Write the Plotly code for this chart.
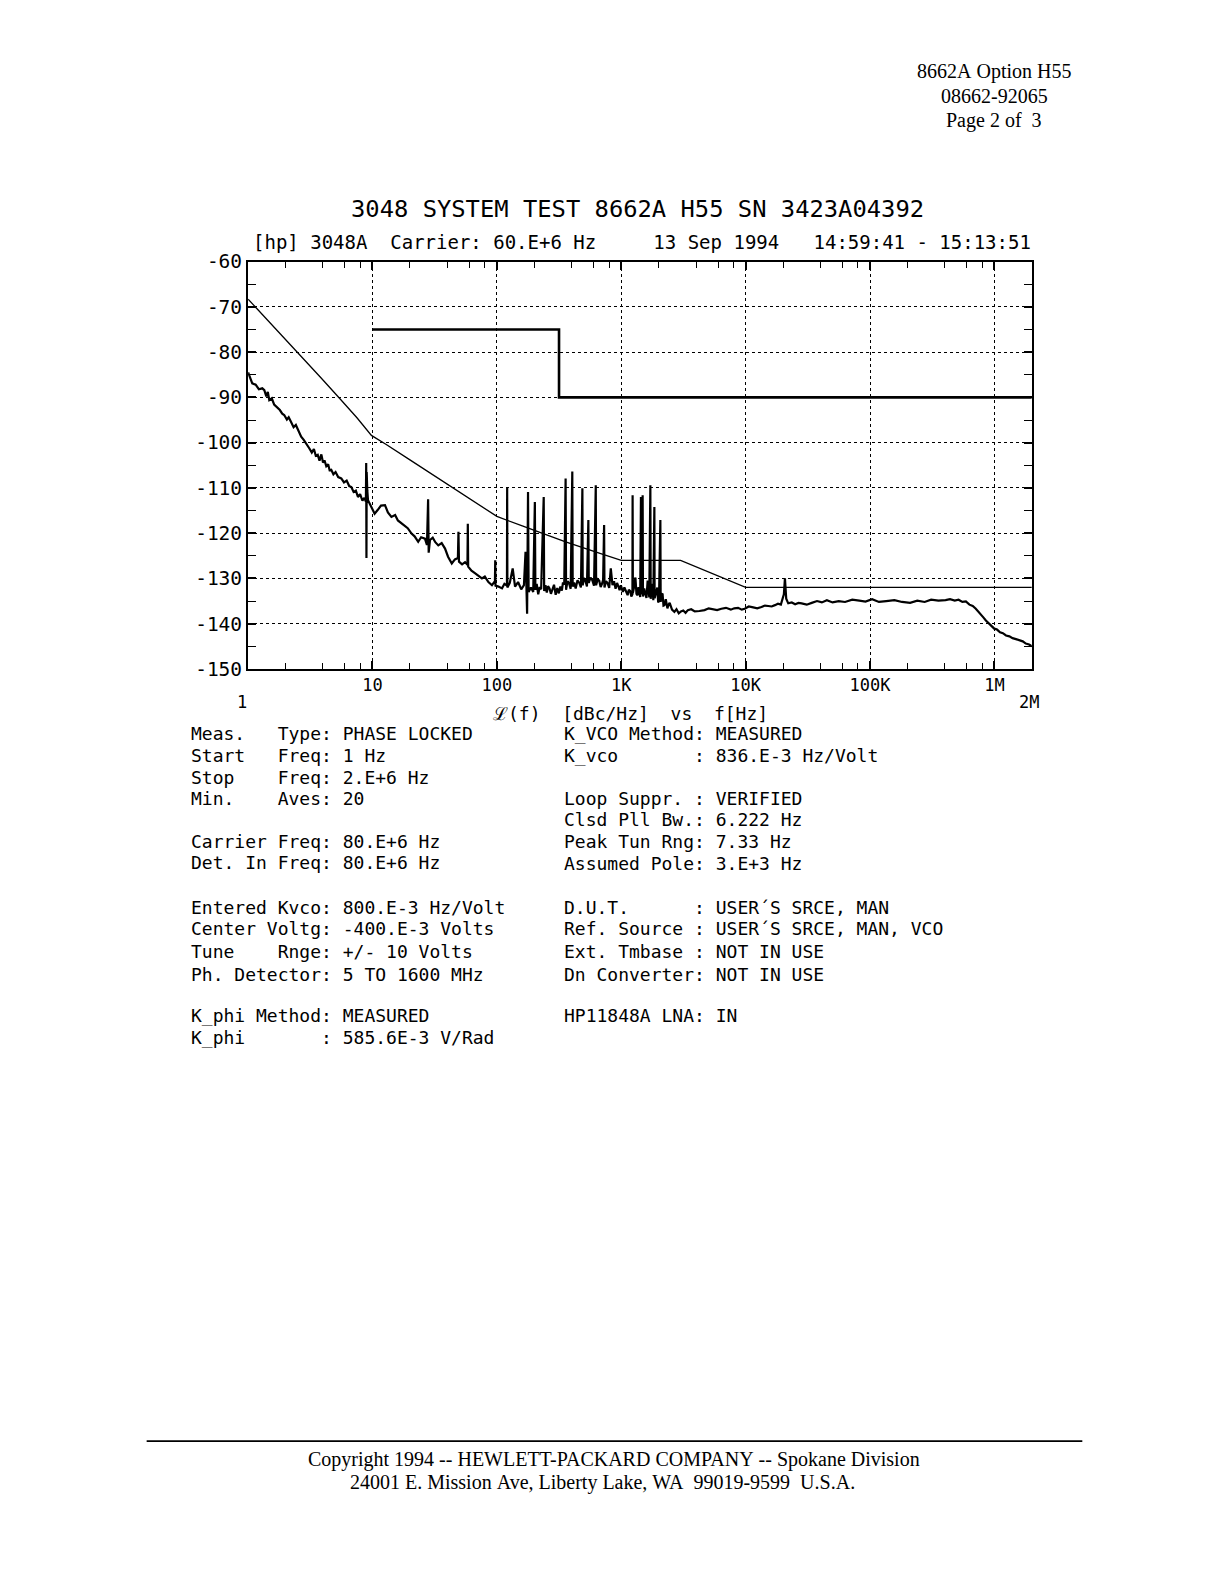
import numpy as np
import plotly.graph_objects as go

# ---------------- data ----------------
# spec limit line (Hz, dBc/Hz)
spec_f = [10, 316, 2e6]
spec_v = [-75, -90, -90]

# system noise floor (thin line)
floor_f = [1, 1.6, 2.58, 3.8, 5.43, 7.5, 9.8, 12.9, 20, 31.8, 46, 70, 100, 160, 238, 357, 684,
           1000, 3000, 10000, 2e6]
floor_v = [-68.3, -74.3, -80.4, -85.5, -90.2, -94.5, -98.4, -100.4, -103.8, -107.4, -110.2,
           -113.5, -116.3, -118.4, -120.1, -121.9, -124.5, -126.0, -126.0, -132.0, -132.0]

# measured phase noise
meas_f = [1.0, 1.04, 1.08, 1.15, 1.22, 1.3, 1.35, 1.4, 1.44, 1.48, 1.55, 1.62, 1.7, 1.8, 1.88,
          1.95, 2.05, 2.12, 2.21, 2.32, 2.42, 2.54, 2.67, 2.8, 2.95, 3.11, 3.25, 3.38, 3.5, 3.63,
          3.75, 3.88, 4.0, 4.11, 4.25, 4.4, 4.52, 4.66, 4.85, 5.05, 5.3, 5.61, 5.9, 6.2, 6.5,
          6.76, 7.05, 7.35, 7.64, 7.95, 8.3, 8.6, 8.85, 8.9, 8.94, 8.98, 9.02, 9.08, 9.2, 9.6,
          10.0, 10.4, 11.0, 11.7, 12.6, 13.3, 14.2, 15.2, 16.0, 17.1, 18.0, 19.2, 20.6, 21.8,
          23.3, 24.6, 26.4, 27.4, 28.0, 28.3, 29.0, 30.5, 32.0, 33.8, 36.0, 38.3, 40.5, 43.4,
          46.0, 48.6, 49.1, 49.6, 52.5, 55.5, 58.0, 58.4, 58.8, 62.5, 67.0, 71.0, 75.8, 80.0,
          85.5, 91.3, 96.5, 97.0, 97.5, 103.0, 110.0, 115.0, 120.5, 121.0, 121.5, 127.0, 134.0,
          140.0, 148.0, 157.0, 165.0, 170.0, 172.0, 175.0, 178.0, 180.0, 188.0, 196.0, 202.0,
          204.0, 209.0, 215.0, 221.0, 227.0, 238.0, 240.0, 246.0, 252.0, 258.0, 265.0, 272.0,
          279.0, 288.0, 297.0, 306.0, 315.0, 324.0, 333.0, 340.0, 348.0, 357.0, 360.0, 370.0,
          380.0, 392.0, 404.0, 407.0, 418.0, 430.0, 445.0, 460.0, 474.0, 487.0, 490.0, 502.0,
          515.0, 530.0, 544.0, 548.0, 566.0, 585.0, 604.0, 624.0, 628.0, 646.0, 665.0, 683.0,
          700.0, 715.0, 728.0, 733.0, 755.0, 775.0, 800.0, 824.0, 850.0, 875.0, 900.0, 925.0,
          950.0, 970.0, 993.0, 1030.0, 1060.0, 1090.0, 1125.0, 1150.0, 1180.0, 1205.0, 1230.0,
          1234.0, 1240.0, 1270.0, 1300.0, 1325.0, 1354.0, 1375.0, 1400.0, 1420.0, 1440.0,
          1450.0, 1470.0, 1486.0, 1495.0, 1530.0, 1560.0, 1595.0, 1630.0, 1655.0, 1680.0,
          1714.0, 1725.0, 1750.0, 1780.0, 1810.0, 1846.0, 1855.0, 1900.0, 1950.0, 1980.0,
          2010.0, 2063.0, 2075.0, 2110.0, 2150.0, 2185.0, 2222.0, 2280.0, 2350.0, 2400.0,
          2450.0, 2560.0, 2675.0, 2780.0, 2900.0, 3020.0, 3150.0, 3290.0, 3432.0, 3650.0,
          3900.0, 4250.0, 4677.0, 5050.0, 5500.0, 5900.0, 6383.0, 6950.0, 7600.0, 8100.0,
          8700.0, 9300.0, 9840.0, 10600.0, 11500.0, 12400.0, 13400.0, 14300.0, 15200.0,
          16200.0, 17200.0, 18200.0, 19200.0, 20300.0, 20700.0, 21200.0, 22000.0, 23500.0,
          25000.0, 26600.0, 28200.0, 31000.0, 34000.0, 37500.0, 41000.0, 45000.0, 50000.0,
          56000.0, 63000.0, 72000.0, 82000.0, 92000.0, 104000.0, 118000.0, 135000.0, 157000.0,
          181000.0, 210000.0, 240000.0, 275000.0, 310000.0, 355000.0, 405000.0, 440000.0,
          480000.0, 515000.0, 553000.0, 590000.0, 630000.0, 670000.0, 709000.0, 745000.0,
          780000.0, 815000.0, 854000.0, 920000.0, 998000.0, 1050000.0, 1110000.0, 1170000.0,
          1240000.0, 1320000.0, 1400000.0, 1490000.0, 1590000.0, 1690000.0, 1790000.0,
          1900000.0, 2000000.0]
meas_v = [-84.5, -86.0, -86.9, -87.2, -88.2, -88.0, -88.4, -89.8, -88.8, -90.6, -90.2, -91.6,
          -92.2, -92.8, -93.6, -93.9, -94.9, -94.4, -95.4, -96.6, -96.1, -97.6, -98.7, -99.4,
          -100.5, -101.3, -102.2, -101.4, -102.9, -102.7, -104.0, -102.6, -104.4, -103.9,
          -105.2, -104.8, -106.1, -106.0, -107.0, -106.5, -107.6, -107.9, -108.8, -108.4,
          -109.6, -109.8, -110.9, -110.6, -112.0, -111.4, -112.8, -112.2, -113.0, -104.5,
          -125.5, -106.5, -123.5, -110.5, -112.7, -113.8, -114.6, -115.7, -114.9, -113.9,
          -113.8, -115.4, -116.4, -116.0, -117.2, -117.9, -118.3, -118.9, -120.1, -120.7,
          -121.9, -120.9, -121.2, -122.6, -112.5, -124.3, -121.5, -121.0, -122.0, -122.7,
          -122.2, -123.4, -125.2, -126.7, -125.8, -125.5, -119.7, -126.3, -126.9, -126.4,
          -127.0, -117.9, -127.4, -128.3, -128.9, -129.4, -130.0, -129.6, -130.8, -131.5,
          -130.6, -126.0, -131.6, -131.8, -132.2, -131.2, -131.6, -109.8, -132.0, -131.0,
          -127.8, -131.8, -130.8, -132.4, -131.5, -124.1, -131.8, -137.8, -110.9, -133.0,
          -132.0, -133.0, -113.1, -132.5, -131.2, -133.5, -131.9, -132.4, -112.0, -132.8,
          -131.5, -133.1, -131.7, -132.2, -133.4, -132.6, -131.4, -133.6, -132.1, -133.3,
          -131.8, -132.7, -130.9, -131.4, -107.9, -132.5, -130.6, -131.0, -132.3, -106.4,
          -131.8, -130.9, -132.2, -130.4, -131.0, -132.0, -110.1, -131.5, -129.9, -130.5,
          -131.8, -117.1, -131.0, -129.8, -130.4, -131.6, -109.4, -131.5, -130.2, -130.5,
          -131.9, -131.2, -130.3, -118.2, -132.0, -130.6, -131.0, -132.1, -127.8, -131.5,
          -130.6, -132.3, -131.0, -131.8, -132.6, -131.5, -133.0, -132.0, -133.0, -133.7,
          -132.5, -132.8, -134.0, -133.5, -111.6, -133.2, -131.8, -129.8, -133.4, -133.7,
          -131.9, -133.0, -134.1, -112.0, -133.5, -132.4, -111.6, -134.0, -132.2, -133.4,
          -134.3, -130.5, -133.0, -134.2, -109.4, -134.5, -132.6, -131.2, -134.8, -114.2,
          -134.4, -133.0, -132.0, -135.3, -135.0, -117.1, -135.2, -133.4, -133.5, -136.0,
          -135.9, -134.6, -136.6, -135.8, -135.4, -136.9, -137.4, -136.8, -137.7, -137.3,
          -137.1, -137.6, -137.0, -136.8, -137.3, -137.2, -137.0, -136.6, -136.8, -137.0,
          -136.7, -136.5, -136.9, -136.6, -136.5, -136.9, -136.7, -136.2, -136.4, -136.6,
          -136.3, -136.0, -136.1, -136.2, -135.9, -135.6, -135.8, -133.5, -130.0, -134.5,
          -135.5, -135.3, -135.7, -135.4, -135.5, -135.8, -135.4, -135.0, -135.3, -134.8,
          -135.3, -135.0, -135.2, -134.7, -134.9, -135.1, -134.6, -135.2, -135.0, -134.8,
          -135.2, -135.4, -134.9, -135.2, -134.7, -134.9, -134.8, -134.6, -134.9, -134.7,
          -135.2, -135.1, -135.8, -136.1, -136.7, -137.3, -138.0, -138.6, -139.3, -140.2,
          -141.1, -141.3, -141.9, -142.1, -142.6, -142.8, -143.2, -143.4, -143.7, -143.9,
          -144.4, -144.6, -145.0]

x_tickvals = [10, 100, 1e3, 1e4, 1e5, 1e6]
x_ticktext = ["10", "100", "1K", "10K", "100K", "1M"]
x_minor = [m * 10 ** d for d in range(0, 7) for m in (2, 4, 6, 8) if m * 10 ** d < 2e6]
y_tickvals = list(range(-150, -59, 10))

title = "3048 SYSTEM TEST 8662A H55 SN 3423A04392"
subtitle = "[hp] 3048A  Carrier: 60.E+6 Hz     13 Sep 1994   14:59:41 - 15:13:51"
axis_title = "ℒ(f)  [dBc/Hz]  vs  f[Hz]"

left_lines = [
    ("Meas.   Type: PHASE LOCKED", 733),
    ("Start   Freq: 1 Hz", 755),
    ("Stop    Freq: 2.E+6 Hz", 776.5),
    ("Min.    Aves: 20", 798),
    ("Carrier Freq: 80.E+6 Hz", 840.7),
    ("Det. In Freq: 80.E+6 Hz", 862.3),
    ("Entered Kvco: 800.E-3 Hz/Volt", 906.7),
    ("Center Voltg: -400.E-3 Volts", 928.3),
    ("Tune    Rnge: +/- 10 Volts", 950.7),
    ("Ph. Detector: 5 TO 1600 MHz", 973.3),
    ("K_phi Method: MEASURED", 1015),
    ("K_phi       : 585.6E-3 V/Rad", 1036.5),
]
right_lines = [
    ("K_VCO Method: MEASURED", 733),
    ("K_vco       : 836.E-3 Hz/Volt", 755),
    ("Loop Suppr. : VERIFIED", 797.5),
    ("Clsd Pll Bw.: 6.222 Hz", 819.3),
    ("Peak Tun Rng: 7.33 Hz", 840.8),
    ("Assumed Pole: 3.E+3 Hz", 862.5),
    ("D.U.T.      : USER´S SRCE, MAN", 906.7),
    ("Ref. Source : USER´S SRCE, MAN, VCO", 928.2),
    ("Ext. Tmbase : NOT IN USE", 950.7),
    ("Dn Converter: NOT IN USE", 973.3),
    ("HP11848A LNA: IN", 1015),
]
header_lines = [("8662A Option H55", 72), ("08662-92065", 96), ("Page 2 of  3", 120.5)]
footer_lines = [("Copyright 1994 -- HEWLETT-PACKARD COMPANY -- Spokane Division", 615, 1458),
                ("24001 E. Mission Ave, Liberty Lake, WA  99019-9599  U.S.A.", 603, 1481.5)]

# ---------------- figure ----------------
W, H = 1212, 1560
MONO = "DejaVu Sans Mono"
SERIF = "Liberation Serif"
X0, X1 = 248.5, 1032.5     # plot area (reference scan pixels)
Y0, Y1 = 261.5, 668.5


def px(x):
    r = x / 1.012
    return ((r - 8.2) / 0.9885) / W


def py(y):
    r = y / 1.012
    r = 71 + (r - 71) * 1.0024
    return 1 - ((r - 18.8) / 0.975) / H


def nb(s):
    return s.replace(" ", "\u00a0")


fig = go.Figure()
fig.add_trace(go.Scatter(x=spec_f, y=spec_v, mode="lines",
                         line=dict(color="black", width=2.6, shape="hv"), hoverinfo="skip"))
fig.add_trace(go.Scatter(x=floor_f, y=floor_v, mode="lines",
                         line=dict(color="black", width=1.3), hoverinfo="skip"))
fig.add_trace(go.Scatter(x=meas_f, y=meas_v, mode="lines",
                         line=dict(color="black", width=2.2), hoverinfo="skip"))

axis_common = dict(showline=True, linecolor="black", linewidth=2.2, mirror="ticks",
                   ticks="inside", ticklen=8, tickwidth=1.5, tickcolor="black",
                   showgrid=True, gridcolor="black", gridwidth=1.4, griddash="dot",
                   zeroline=False)

fig.update_xaxes(type="log", range=[0, np.log10(2e6)], domain=[px(X0), px(X1)],
                 tickvals=x_tickvals, ticktext=x_ticktext,
                 tickfont=dict(family=MONO, size=17, color="black"),
                 ticklabelstandoff=0,
                 minor=dict(tickvals=x_minor, ticks="inside", ticklen=6, tickwidth=1.4,
                            tickcolor="black", showgrid=False),
                 **axis_common)
fig.update_yaxes(range=[-150, -60], domain=[py(Y1), py(Y0)],
                 tickvals=y_tickvals, ticktext=[str(v) for v in y_tickvals],
                 tickfont=dict(family=MONO, size=19.5, color="black"),
                 ticklabelstandoff=0,
                 minor=dict(dtick=5, tick0=-60, ticks="inside", ticklen=8, tickwidth=1.4,
                            tickcolor="black", showgrid=False),
                 **axis_common)

ann = []
ann.append(dict(text=nb(title), x=px(638), y=py(209), xref="paper", yref="paper",
                showarrow=False, xanchor="center", yanchor="middle",
                font=dict(family=MONO, size=23.8, color="black")))
ann.append(dict(text=nb(subtitle), x=px(251), y=py(242), xref="paper", yref="paper",
                showarrow=False, xanchor="left", yanchor="middle",
                font=dict(family=MONO, size=19, color="black")))
ann.append(dict(text=nb(axis_title), x=px(631), y=py(713), xref="paper", yref="paper",
                showarrow=False, xanchor="center", yanchor="middle",
                font=dict(family=MONO, size=18, color="black")))
ann.append(dict(text="1", x=0, y=py(702), xref="x", yref="paper", xshift=-6,
                showarrow=False, xanchor="center", yanchor="middle",
                font=dict(family=MONO, size=17, color="black")))
ann.append(dict(text="2M", x=np.log10(2e6), y=py(702), xref="x", yref="paper", xshift=-3,
                showarrow=False, xanchor="center", yanchor="middle",
                font=dict(family=MONO, size=17, color="black")))
for s, y in left_lines:
    ann.append(dict(text=nb(s), x=px(189), y=py(y), xref="paper", yref="paper",
                    showarrow=False, xanchor="left", yanchor="middle",
                    font=dict(family=MONO, size=18, color="black")))
for s, y in right_lines:
    ann.append(dict(text=nb(s), x=px(562), y=py(y), xref="paper", yref="paper",
                    showarrow=False, xanchor="left", yanchor="middle",
                    font=dict(family=MONO, size=18, color="black")))
for s, y in header_lines:
    ann.append(dict(text=nb(s), x=px(995), y=py(y), xref="paper", yref="paper",
                    showarrow=False, xanchor="center", yanchor="middle",
                    font=dict(family=SERIF, size=20, color="black")))
for s, x, y in footer_lines:
    ann.append(dict(text=nb(s), x=px(x), y=py(y), xref="paper", yref="paper",
                    showarrow=False, xanchor="center", yanchor="middle",
                    font=dict(family=SERIF, size=20, color="black")))

fig.update_layout(
    width=W, height=H, autosize=False,
    margin=dict(l=0, r=0, t=0, b=0, pad=0),
    paper_bgcolor="white", plot_bgcolor="white",
    showlegend=False,
    annotations=ann,
    shapes=[dict(type="line", xref="paper", yref="paper", x0=px(147), x1=px(1083),
                 y0=py(1440), y1=py(1440), line=dict(color="black", width=1.6))],
)

fig.write_html("out.html")
